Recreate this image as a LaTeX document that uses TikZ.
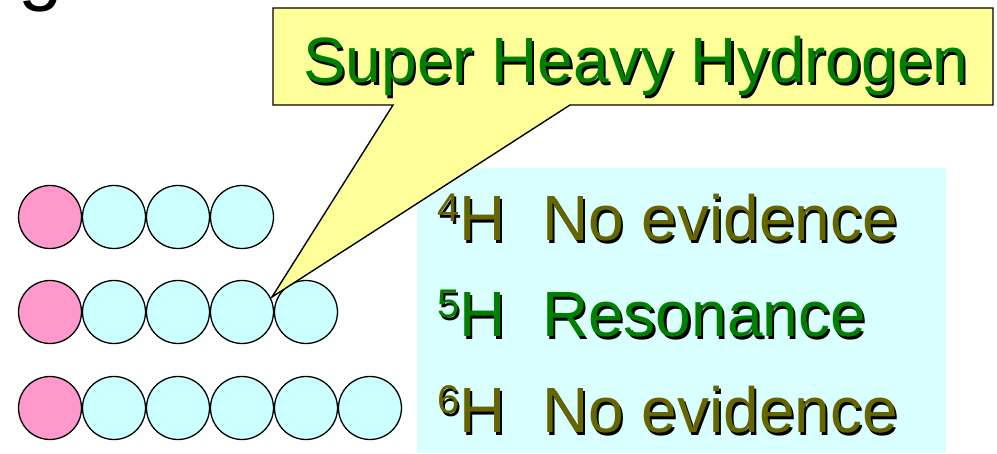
\documentclass[tikz,border=0pt]{standalone}
\usepackage{fontspec}
\setmainfont{Liberation Sans}
\usepackage{xcolor}
\definecolor{ProtonPink}{HTML}{FF99CC}
\definecolor{NeutronCyan}{HTML}{CCFFFF}
\definecolor{PanelCyan}{HTML}{D9FFFF}
\definecolor{CalloutYellow}{HTML}{FFFF99}
\definecolor{LabelGreen}{HTML}{008000}
\definecolor{LabelOlive}{HTML}{666600}
\newcommand{\shadowed}[2]{\makebox[0pt][l]{\hspace{2.2pt}\raisebox{-2.2pt}{\color{black}#2}}{\color{#1}#2}}

\begin{document}
\begin{tikzpicture}[x=1pt,y=-1pt,
    nucleon/.style={circle,draw,line width=1.3pt,minimum size=63pt,inner sep=0pt},
    proton/.style={nucleon,fill=ProtonPink},
    neutron/.style={nucleon,fill=NeutronCyan},
    biglabel/.style={anchor=base west,inner sep=0pt,font=\fontsize{64}{64}\selectfont}]
    \useasboundingbox (0,0) rectangle (997,454);
    \node[biglabel,font=\fontsize{80}{80}\selectfont] (title) at (18,-4) {g};
    \fill[PanelCyan] (417,168) rectangle (946,453);
    \foreach \row/\ypos/\nn in {4/217/3,5/312/4,6/408/5} {
        \node[proton] (p\row) at (50,\ypos) {};
        \foreach \k in {1,...,\nn} {
            \node[neutron] (n\row-\k) at (50+64*\k,\ypos) {};
        }
    }
    \coordinate (tip) at (272,297);
    \draw[line width=1.4pt,fill=CalloutYellow] (273,8) -- (993,8) -- (993,105) -- (570,105)
        -- (tip) -- (393,105) -- (273,105) -- cycle;
    \node[biglabel] (callout) at (303,83) {\shadowed{LabelGreen}{Super Heavy Hydrogen}};
    \foreach \row/\ypos/\what/\col in {4/241/No evidence/LabelOlive,5/337/Resonance/LabelGreen,6/433/No evidence/LabelOlive} {
        \node[biglabel] (iso\row) at (437,\ypos) {\shadowed{\col}{\raisebox{19pt}{\fontsize{40}{40}\selectfont\row}H}};
        \node[biglabel] (res\row) at (542,\ypos) {\shadowed{\col}{\what}};
    }
\end{tikzpicture}
\end{document}
